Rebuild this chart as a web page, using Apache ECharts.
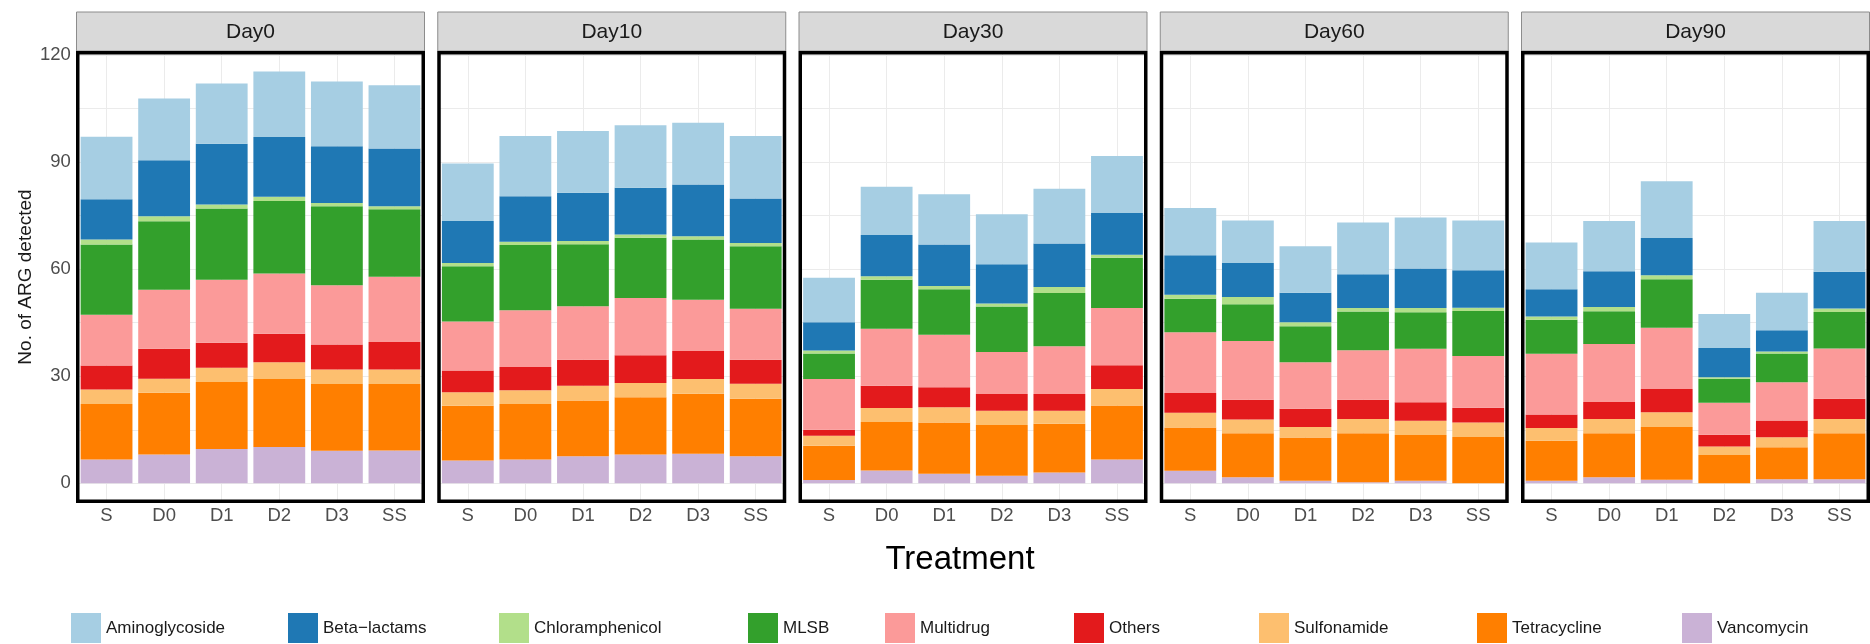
<!DOCTYPE html>
<html><head><meta charset="utf-8">
<script src="https://cdn.jsdelivr.net/npm/echarts@6/dist/echarts.min.js"></script>
<style>html,body{margin:0;padding:0;background:#fff}#c{width:1870px;height:644px}</style>
</head><body><div id="c"></div>
<script>
// ---------- data ----------
const treatments = ['S', 'D0', 'D1', 'D2', 'D3', 'SS'];
const days = ['Day0', 'Day10', 'Day30', 'Day60', 'Day90'];
const yTickLabels = [0, 30, 60, 90, 120];
const yGridValues = [0, 15, 30, 45, 60, 75, 90, 105, 120];

// each array: one row per day (Day0..Day90), one value per treatment (S..SS)
const aminoglycoside = [
  [17.5, 17.3, 16.9, 18.4, 18.2, 17.7],
  [16.1, 16.9, 17.3, 17.5, 17.3, 17.5],
  [12.5, 13.5, 14.1, 14.0, 15.3, 16.0],
  [13.2, 11.9, 13.0, 14.5, 14.3, 13.9],
  [13.1, 14.1, 15.9, 9.5, 10.5, 14.2]
];
const betaLactams = [
  [11.3, 15.7, 17.0, 16.7, 15.9, 16.2],
  [11.8, 12.7, 13.5, 13.1, 14.5, 12.5],
  [7.9, 11.6, 11.6, 11.0, 12.2, 11.7],
  [11.1, 9.5, 8.3, 9.5, 11.1, 10.5],
  [7.7, 10.0, 10.4, 8.2, 6.0, 10.3]
];
const chloramphenicol = [
  [1.4, 1.4, 1.1, 1.2, 0.9, 0.8],
  [0.9, 0.9, 0.9, 0.9, 0.9, 0.9],
  [0.8, 1.0, 0.9, 0.9, 1.7, 0.8],
  [1.1, 2.0, 1.1, 1.0, 1.2, 0.9],
  [0.9, 1.2, 1.1, 0.4, 0.5, 1.0]
];
const mlsb = [
  [19.7, 19.2, 20.0, 20.3, 22.1, 18.9],
  [15.5, 18.3, 17.4, 16.9, 16.9, 17.5],
  [7.2, 13.7, 12.8, 12.7, 14.9, 14.1],
  [9.4, 10.3, 10.1, 10.8, 10.2, 12.6],
  [9.5, 9.2, 13.6, 6.7, 8.1, 10.2]
];
const multidrug = [
  [14.2, 16.5, 17.6, 16.9, 16.6, 18.3],
  [13.7, 15.9, 15.0, 16.0, 14.3, 14.3],
  [14.2, 16.0, 14.7, 11.8, 13.4, 16.0],
  [17.0, 16.5, 13.0, 13.9, 15.0, 14.5],
  [17.0, 16.2, 17.2, 9.0, 10.7, 14.1]
];
const others = [
  [6.7, 8.4, 7.0, 8.0, 7.0, 7.7],
  [6.1, 6.5, 7.3, 7.8, 7.9, 6.7],
  [1.7, 6.2, 5.6, 4.7, 4.7, 6.7],
  [5.5, 5.5, 5.1, 5.4, 5.2, 4.2],
  [3.8, 4.8, 6.5, 3.3, 4.7, 5.7]
];
const sulfonamide = [
  [4.1, 3.9, 4.0, 4.7, 4.1, 4.1],
  [3.8, 3.9, 4.1, 4.0, 4.1, 4.2],
  [2.8, 3.9, 4.3, 4.0, 3.6, 4.6],
  [4.2, 3.9, 3.0, 4.0, 4.0, 4.0],
  [3.6, 4.0, 4.1, 2.4, 2.8, 4.0]
];
const tetracycline = [
  [15.5, 17.3, 18.8, 19.0, 18.7, 18.6],
  [15.3, 15.5, 15.6, 16.0, 16.8, 16.1],
  [9.6, 13.6, 14.3, 14.2, 13.7, 15.1],
  [12.1, 12.3, 12.1, 13.7, 12.8, 13.0],
  [11.2, 12.3, 14.8, 7.9, 9.0, 12.9]
];
const vancomycin = [
  [6.7, 8.1, 9.6, 10.2, 9.1, 9.2],
  [6.4, 6.7, 7.6, 8.1, 8.3, 7.6],
  [0.9, 3.6, 2.7, 2.1, 3.0, 6.7],
  [3.5, 1.7, 0.7, 0.3, 0.7, 0.0],
  [0.7, 1.7, 1.0, 0.0, 1.1, 1.1]
];

const classNames = ['Aminoglycoside', 'Beta\u2212lactams', 'Chloramphenicol', 'MLSB', 'Multidrug',
                    'Others', 'Sulfonamide', 'Tetracycline', 'Vancomycin'];
const classValues = [aminoglycoside, betaLactams, chloramphenicol, mlsb, multidrug,
                     others, sulfonamide, tetracycline, vancomycin];
const classColors = ['#A6CEE3', '#1F78B4', '#B2DF8A', '#33A02C', '#FB9A99',
                     '#E31A1C', '#FDBF6F', '#FF7F00', '#CAB2D6'];

// ---------- layout ----------
const FONT = '"Liberation Sans", Arial, Helvetica, sans-serif';
const PANEL_X0 = 76, PANEL_STEP = 361.25, PANEL_W = 349, BORDER = 3.5;
const GRID_TOP = 52.75, GRID_H = 448.5;
const Y_MIN = -5.03, Y_MAX = 120.63;
const legendLeft = [71, 288, 499, 748, 885, 1074, 1259, 1477, 1682];
const panelLeft = i => PANEL_X0 + PANEL_STEP * i;

const grids = [], xAxes = [], yAxes = [], series = [], graphics = [];
days.forEach((day, i) => {
  const L = panelLeft(i);
  grids.push({ left: L + BORDER / 2, top: GRID_TOP, width: PANEL_W - BORDER, height: GRID_H, containLabel: false });
  xAxes.push({
    type: 'category', gridIndex: i, data: treatments,
    axisLine: { show: false }, axisTick: { show: false },
    axisLabel: { interval: 0, fontSize: 18.5, color: '#4D4D4D', margin: 5, fontFamily: FONT },
    splitLine: { show: true, interval: 0, alignWithLabel: true, lineStyle: { color: '#EBEBEB', width: 1 } }
  });
  yAxes.push({
    type: 'value', gridIndex: i, min: Y_MIN, max: Y_MAX,
    axisLine: { show: false },
    axisTick: { show: false, customValues: yGridValues },
    axisLabel: { show: i === 0, customValues: yTickLabels, fontSize: 18.5, color: '#4D4D4D', margin: 7, fontFamily: FONT },
    splitLine: { show: true, lineStyle: { color: '#EBEBEB', width: 1 } },
    name: i === 0 ? 'No. of ARG detected' : '',
    nameLocation: 'middle', nameGap: 42,
    nameTextStyle: { fontSize: 19, color: '#1A1A1A', fontFamily: FONT }
  });
  // stacked from bottom (Vancomycin) to top (Aminoglycoside)
  for (let k = classNames.length - 1; k >= 0; k--) {
    series.push({
      type: 'bar', name: classNames[k], xAxisIndex: i, yAxisIndex: i, stack: 'day' + i,
      barWidth: '90%', data: classValues[k][i],
      itemStyle: { color: classColors[k] },
      emphasis: { disabled: true }, silent: true
    });
  }
  // facet strip
  graphics.push({
    type: 'rect', shape: { x: L + 0.5, y: 12, width: PANEL_W - 1, height: 39 },
    style: { fill: '#D9D9D9', stroke: '#8C8C8C', lineWidth: 1 }, z: 90, silent: true
  });
  graphics.push({
    type: 'text', x: L + PANEL_W / 2, y: 32,
    style: { text: day, fill: '#1A1A1A', font: '21px ' + FONT, textAlign: 'center', textVerticalAlign: 'middle' },
    z: 91, silent: true
  });
  // panel border
  graphics.push({
    type: 'rect', shape: { x: L + BORDER / 2, y: GRID_TOP, width: PANEL_W - BORDER, height: GRID_H },
    style: { fill: 'none', stroke: '#000', lineWidth: BORDER }, z: 100, silent: true
  });
});
graphics.push({
  type: 'text', x: 960, y: 560,
  style: { text: 'Treatment', fill: '#000', font: '33px ' + FONT, textAlign: 'center', textVerticalAlign: 'middle' },
  silent: true
});

const legends = classNames.map((n, k) => ({
  data: [{ name: n, icon: 'rect' }], left: legendLeft[k], top: 613, orient: 'horizontal',
  itemWidth: 30, itemHeight: 30, itemGap: 0, padding: 0, selectedMode: false,
  textStyle: { fontSize: 17, color: '#1A1A1A', fontFamily: FONT }
}));

const chart = echarts.init(document.getElementById('c'), null, { renderer: 'canvas' });
chart.setOption({
  backgroundColor: '#fff', animation: false,
  grid: grids, xAxis: xAxes, yAxis: yAxes, series: series, legend: legends, graphic: graphics
});
</script></body></html>
